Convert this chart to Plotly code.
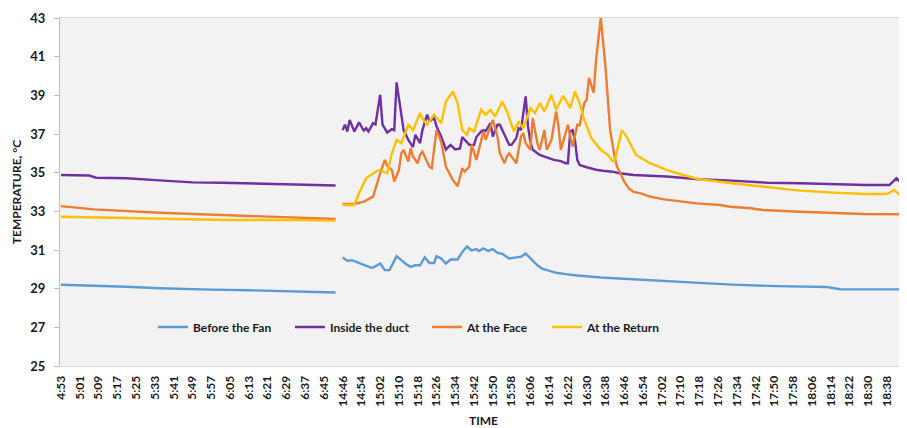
import plotly.graph_objects as go

# ---------------- data ----------------
series_names = ["Before the Fan", "Inside the duct", "At the Face", "At the Return"]
series_colors = ["#5B9BD5", "#7030A0", "#ED7D31", "#FFC000"]

tick_labels = ["4:53", "5:01", "5:09", "5:17", "5:25", "5:33", "5:41", "5:49", "5:57",
               "6:05", "6:13", "6:21", "6:29", "6:37", "6:45",
               "14:46", "14:54", "15:02", "15:10", "15:18", "15:26", "15:34", "15:42",
               "15:50", "15:58", "16:06", "16:14", "16:22", "16:30", "16:38", "16:46",
               "16:54", "17:02", "17:10", "17:18", "17:26", "17:34", "17:42", "17:50",
               "17:58", "18:06", "18:14", "18:22", "18:30", "18:38", "18:46"]

y_ticks = [25, 27, 29, 31, 33, 35, 37, 39, 41, 43]

# Morning session (4:53 - 6:50)
fan_am_t = ["4:53", "5:01", "5:07", "5:13", "5:21", "5:35", "5:49", "5:57", "6:13", "6:29", "6:39", "6:50"]
fan_am_v = [29.2, 29.18, 29.13, 29.15, 29.1, 29.02, 29.0, 28.95, 28.92, 28.88, 28.86, 28.8]

duct_am_t = ["4:53", "5:01", "5:05", "5:08", "5:21", "5:35", "5:49", "6:01", "6:18", "6:32", "6:50"]
duct_am_v = [34.88, 34.87, 34.85, 34.74, 34.71, 34.6, 34.5, 34.48, 34.42, 34.37, 34.34]

face_am_t = ["4:53", "5:07", "5:35", "6:04", "6:32", "6:50"]
face_am_v = [33.27, 33.1, 32.93, 32.81, 32.69, 32.6]

ret_am_t = ["4:53", "5:21", "5:42", "6:04", "6:33", "6:50"]
ret_am_v = [32.72, 32.66, 32.6, 32.55, 32.55, 32.52]

# Afternoon session (14:46 - 18:47)
fan_pm_t = ["14:46", "14:48", "14:50", "14:53", "14:56", "14:58", "14:59", "15:02", "15:04", "15:06",
            "15:09", "15:11", "15:13", "15:15", "15:17", "15:19", "15:21", "15:23", "15:25", "15:26",
            "15:28", "15:30", "15:32", "15:35", "15:37", "15:39", "15:41", "15:43", "15:44", "15:46",
            "15:48", "15:50", "15:52", "15:54", "15:57", "16:00", "16:02", "16:04", "16:06", "16:09",
            "16:11", "16:14", "16:17", "16:21", "16:26", "16:36", "16:47", "16:57", "17:18", "17:32",
            "17:51", "18:12", "18:18", "18:47"]
fan_pm_v = [30.62, 30.44, 30.47, 30.33, 30.21, 30.09, 30.09, 30.3, 29.96, 29.96,
            30.68, 30.47, 30.27, 30.13, 30.21, 30.21, 30.62, 30.33, 30.33, 30.68,
            30.56, 30.3, 30.51, 30.51, 30.9, 31.18, 30.98, 31.05, 30.95, 31.08,
            30.95, 31.05, 30.85, 30.8, 30.56, 30.62, 30.65, 30.82, 30.56, 30.21,
            30.04, 29.92, 29.82, 29.75, 29.68, 29.58, 29.5, 29.42, 29.3, 29.21,
            29.13, 29.09, 28.97, 28.96]

duct_pm_t = ["14:46", "14:47", "14:48", "14:49", "14:51", "14:53", "14:55", "14:56", "14:57", "14:59",
             "15:00", "15:02", "15:03", "15:05", "15:07", "15:08", "15:09", "15:11", "15:12", "15:14",
             "15:16", "15:17", "15:19", "15:20", "15:22", "15:23", "15:25", "15:26", "15:28", "15:30",
             "15:32", "15:34", "15:36", "15:37", "15:40", "15:42", "15:43", "15:45", "15:46", "15:47",
             "15:49", "15:50", "15:52", "15:53", "15:55", "15:57", "15:58", "16:00", "16:01", "16:02",
             "16:04", "16:05", "16:06", "16:07", "16:10", "16:13", "16:16", "16:19", "16:21", "16:22",
             "16:23", "16:24", "16:25", "16:26", "16:27", "16:30", "16:34", "16:37", "16:41", "16:44",
             "16:50", "17:04", "17:18", "17:32", "17:47", "18:01", "18:15", "18:29", "18:39", "18:41",
             "18:42", "18:44", "18:47"]
duct_pm_v = [37.2, 37.48, 37.13, 37.73, 37.13, 37.6, 37.18, 37.3, 37.13, 37.56,
             37.5, 39.03, 37.48, 37.08, 37.25, 37.2, 39.67, 38.0, 37.2, 36.7,
             36.32, 36.96, 36.53, 37.2, 38.0, 37.65, 37.83, 37.4, 36.87, 36.2,
             36.44, 36.2, 36.25, 36.84, 36.44, 36.44, 36.84, 37.13, 37.2, 37.15,
             37.56, 36.87, 37.48, 37.48, 36.96, 36.44, 36.44, 36.79, 37.3, 37.2,
             38.95, 37.39, 36.61, 36.18, 35.92, 35.78, 35.66, 35.6, 35.49, 35.49,
             37.13, 37.2, 36.7, 35.66, 35.4, 35.28, 35.15, 35.1, 35.05, 34.97,
             34.88, 34.8, 34.66, 34.59, 34.48, 34.45, 34.4, 34.36, 34.36, 34.59,
             34.71, 34.48, 34.45]

face_pm_t = ["14:46", "14:51", "14:55", "14:59", "15:02", "15:04", "15:05", "15:07", "15:08", "15:10",
             "15:11", "15:12", "15:14", "15:15", "15:16", "15:18", "15:19", "15:20", "15:23", "15:24",
             "15:26", "15:28", "15:30", "15:33", "15:35", "15:37", "15:38", "15:40", "15:41", "15:43",
             "15:46", "15:47", "15:50", "15:52", "15:53", "15:55", "15:56", "15:57", "15:59", "16:00",
             "16:02", "16:03", "16:04", "16:06", "16:07", "16:09", "16:10", "16:12", "16:13", "16:15",
             "16:17", "16:18", "16:19", "16:22", "16:23", "16:24", "16:26", "16:27", "16:29", "16:30",
             "16:31", "16:32", "16:33", "16:34", "16:36", "16:38", "16:40", "16:42", "16:43", "16:45",
             "16:46", "16:48", "16:50", "16:53", "16:57", "17:03", "17:11", "17:17", "17:27", "17:31",
             "17:40", "17:45", "18:01", "18:07", "18:22", "18:28", "18:47"]
face_pm_v = [33.38, 33.38, 33.5, 33.76, 34.97, 35.66, 35.35, 35.14, 34.54, 35.14,
             36.0, 36.18, 35.57, 36.27, 35.83, 35.49, 35.92, 36.09, 35.31, 35.23,
             37.2, 36.61, 35.31, 34.62, 34.3, 35.23, 35.05, 35.31, 36.44, 35.66,
             37.13, 36.7, 37.73, 36.87, 36.01, 35.49, 35.83, 36.0, 35.66, 35.49,
             36.87, 37.04, 36.53, 36.18, 37.82, 36.53, 36.18, 37.2, 36.18, 36.7,
             38.17, 37.39, 36.18, 37.48, 36.87, 36.35, 37.48, 37.45, 38.6, 38.77,
             39.9, 39.46, 39.12, 40.85, 43.0, 40.5, 37.2, 35.75, 35.3, 34.8,
             34.54, 34.19, 34.0, 33.93, 33.76, 33.62, 33.5, 33.41, 33.33, 33.24,
             33.16, 33.07, 32.98, 32.96, 32.9, 32.86, 32.85]

ret_pm_t = ["14:46", "14:51", "14:53", "14:56", "15:00", "15:02", "15:05", "15:07", "15:09", "15:11",
            "15:14", "15:16", "15:19", "15:20", "15:22", "15:25", "15:28", "15:30", "15:33", "15:35",
            "15:37", "15:39", "15:40", "15:42", "15:45", "15:47", "15:49", "15:51", "15:54", "15:56",
            "15:59", "16:01", "16:03", "16:06", "16:08", "16:10", "16:12", "16:15", "16:17", "16:20",
            "16:23", "16:25", "16:27", "16:29", "16:32", "16:36", "16:39", "16:41", "16:42", "16:45",
            "16:47", "16:51", "16:57", "17:04", "17:11", "17:18", "17:32", "17:47", "18:01", "18:15",
            "18:29", "18:38", "18:41", "18:44", "18:47"]
ret_pm_v = [33.33, 33.33, 33.93, 34.71, 35.05, 35.14, 34.97, 36.0, 36.7, 36.53,
            37.48, 37.2, 38.08, 37.82, 37.48, 38.0, 37.56, 38.68, 39.2, 38.6,
            37.2, 36.96, 37.3, 37.13, 38.25, 38.0, 38.25, 37.9, 38.68, 38.17,
            37.13, 37.65, 37.3, 38.34, 38.08, 38.6, 38.17, 39.03, 38.25, 38.98,
            38.34, 39.2, 38.6, 37.73, 36.79, 36.18, 35.92, 35.6, 35.65, 37.2,
            36.87, 35.92, 35.49, 35.14, 34.88, 34.66, 34.45, 34.24, 34.07, 33.97,
            33.9, 33.9, 34.1, 33.79, 33.5]

am_series = [(fan_am_t, fan_am_v), (duct_am_t, duct_am_v), (face_am_t, face_am_v), (ret_am_t, ret_am_v)]
pm_series = [(fan_pm_t, fan_pm_v), (duct_pm_t, duct_pm_v), (face_pm_t, face_pm_v), (ret_pm_t, ret_pm_v)]

AM_START = "4:53"
PM_START = "14:46"
AM_ROWS = 120  # logged rows before the afternoon session on the category axis


def minutes(t):
    h, m = t.split(":")
    return int(h) * 60 + int(m)


def row_pos(t):
    """Position of a time stamp along the chart's row (category) axis."""
    mm = minutes(t)
    if mm < 12 * 60:
        return mm - minutes(AM_START)
    return AM_ROWS + mm - minutes(PM_START)


# ---------------- figure ----------------
FONT = "Lato"
TXT = "#1a1a1a"
fig = go.Figure()

legend_ids = ["legend", "legend2", "legend3", "legend4"]
for i, name in enumerate(series_names):
    at, av = am_series[i]
    pt, pv = pm_series[i]
    xs = [row_pos(t) for t in at] + [None] + [row_pos(t) for t in pt]
    ys = list(av) + [None] + list(pv)
    fig.add_trace(go.Scatter(
        x=xs, y=ys, mode="lines", name=name,
        line=dict(color=series_colors[i], width=2.4),
        connectgaps=False, legend=legend_ids[i],
    ))

legend_x = [0.1098, 0.2715, 0.4333, 0.575]
legend_common = dict(orientation="h", yanchor="middle", y=0.112, xanchor="left",
                     bgcolor="rgba(0,0,0,0)", borderwidth=0,
                     font=dict(family=FONT, size=12, color=TXT, weight="bold"))
layout_legends = {}
for lid, lx in zip(legend_ids, legend_x):
    layout_legends[lid] = dict(legend_common, x=lx)

# the page body keeps its default 8px margin, so the figure is sized to end at the window edge
fig.update_layout(
    width=899, height=420,
    margin=dict(l=52, r=0, t=10, b=62, pad=0),
    paper_bgcolor="white",
    plot_bgcolor="#F2F2F2",
    showlegend=True,
    font=dict(family=FONT, color=TXT),
    **layout_legends,
)

fig.update_xaxes(
    automargin=False,
    range=[-0.43, 360.5],
    tickmode="array",
    tickvals=[row_pos(t) for t in tick_labels],
    ticktext=tick_labels,
    tickangle=-90,
    ticks="",
    ticklabelstandoff=4,
    ticklabeloverflow="allow",
    tickfont=dict(family=FONT, size=12, color=TXT, weight="bold"),
    showgrid=False, zeroline=False,
    showline=True, linecolor="#D9D9D9", linewidth=1, mirror=True,
    title=dict(text="TIME", font=dict(family=FONT, size=12, color=TXT, weight="bold"),
               standoff=11),
)

fig.update_yaxes(
    automargin=False,
    range=[25, 43],
    tickmode="array",
    tickvals=y_ticks,
    ticks="outside", ticklen=5, tickcolor="#BFBFBF",
    ticklabelstandoff=6,
    tickfont=dict(family=FONT, size=13, color=TXT, weight="bold"),
    showgrid=False, zeroline=False,
    showline=True, linecolor="#BFBFBF", linewidth=1,
    title=dict(text="TEMPERATURE, °C", font=dict(family=FONT, size=12, color=TXT, weight="bold"),
               standoff=6),
)

fig.write_html("out.html")
